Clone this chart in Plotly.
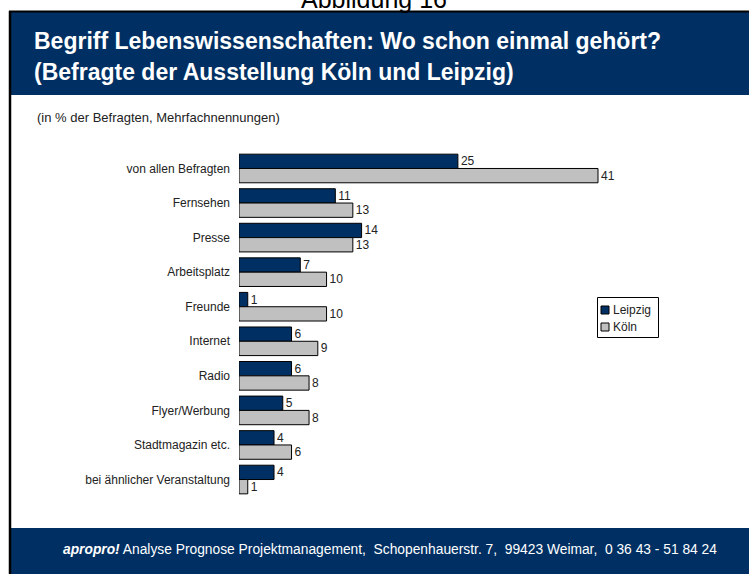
import plotly.graph_objects as go

W, H = 749, 574

categories = ["von allen Befragten", "Fernsehen", "Presse", "Arbeitsplatz", "Freunde",
              "Internet", "Radio", "Flyer/Werbung", "Stadtmagazin etc.",
              "bei ähnlicher Veranstaltung"]
leipzig = [25, 11, 14, 7, 1, 6, 6, 5, 4, 4]
koeln = [41, 13, 13, 10, 10, 9, 8, 8, 6, 1]
series_names = ["Leipzig", "Köln"]

NAVY = "#003063"
GREY = "#c0c0c0"
FONT = "Liberation Sans, Arial, sans-serif"


def px(x):
    return x / W


def py(y):
    return 1 - y / H


fig = go.Figure()
for name, vals, col in [(series_names[0], leipzig, NAVY), (series_names[1], koeln, GREY)]:
    fig.add_trace(go.Bar(
        y=categories, x=vals, name=name, orientation="h",
        marker=dict(color=col, line=dict(color="#000000", width=1)),
        text=vals, textposition="outside", constraintext="none", cliponaxis=False,
        textfont=dict(family=FONT, size=12, color="#222222"),
        showlegend=False,
    ))

shapes = [
    dict(type="rect", xref="paper", yref="paper", x0=px(10), x1=px(760), y0=py(95), y1=py(12),
         fillcolor=NAVY, line=dict(width=0), layer="below"),
    dict(type="rect", xref="paper", yref="paper", x0=px(10), x1=px(760), y0=py(590), y1=py(528),
         fillcolor=NAVY, line=dict(width=0), layer="below"),
    dict(type="line", xref="paper", yref="paper", x0=px(9), x1=px(760), y0=py(11.5), y1=py(11.5),
         line=dict(color="#000000", width=2)),
    dict(type="line", xref="paper", yref="paper", x0=px(10), x1=px(10), y0=py(11), y1=py(590),
         line=dict(color="#000000", width=2.5)),
    dict(type="rect", xref="paper", yref="paper", x0=px(597.5), x1=px(658.5), y0=py(337.5), y1=py(297.5),
         fillcolor="#ffffff", line=dict(color="#000000", width=1)),
    dict(type="rect", xref="paper", yref="paper", x0=px(601), x1=px(609), y0=py(314), y1=py(306),
         fillcolor=NAVY, line=dict(color="#000000", width=1)),
    dict(type="rect", xref="paper", yref="paper", x0=px(601), x1=px(609), y0=py(331), y1=py(323),
         fillcolor=GREY, line=dict(color="#000000", width=1)),
]

annotations = [
    dict(text="Abbildung 16", x=px(374), y=py(15), xref="paper", yref="paper",
         xanchor="center", yanchor="bottom", showarrow=False,
         font=dict(family=FONT, size=25, color="#000000")),
    dict(text="<b>Begriff Lebenswissenschaften: Wo schon einmal gehört?</b>", x=px(32), y=py(41),
         xref="paper", yref="paper", xanchor="left", yanchor="middle", showarrow=False,
         font=dict(family=FONT, size=23, color="#ffffff")),
    dict(text="<b>(Befragte der Ausstellung Köln und Leipzig)</b>", x=px(32), y=py(72),
         xref="paper", yref="paper", xanchor="left", yanchor="middle", showarrow=False,
         font=dict(family=FONT, size=23, color="#ffffff")),
    dict(text="(in % der Befragten, Mehrfachnennungen)", x=px(35), y=py(117),
         xref="paper", yref="paper", xanchor="left", yanchor="middle", showarrow=False,
         font=dict(family=FONT, size=13, color="#222222")),
    dict(text="<b><i>apropro!</i></b> Analyse Prognose Projektmanagement,  Schopenhauerstr. 7,  99423 Weimar,  0 36 43 - 51 84 24",
         x=px(389.5), y=py(549), xref="paper", yref="paper", xanchor="center", yanchor="middle",
         showarrow=False, font=dict(family=FONT, size=13.8, color="#ffffff")),
    dict(text=series_names[0], x=px(611), y=py(310), xref="paper", yref="paper",
         xanchor="left", yanchor="middle", showarrow=False,
         font=dict(family=FONT, size=12, color="#222222")),
    dict(text=series_names[1], x=px(611), y=py(327), xref="paper", yref="paper",
         xanchor="left", yanchor="middle", showarrow=False,
         font=dict(family=FONT, size=12, color="#222222")),
]

units_px = (598 - 239) / 41.0
right_px = 700
fig.update_layout(
    width=W, height=H,
    margin=dict(l=0, r=0, t=0, b=0),
    paper_bgcolor="#ffffff", plot_bgcolor="rgba(0,0,0,0)",
    barmode="group", bargap=0.172, bargroupgap=0,
    shapes=shapes, annotations=annotations,
    showlegend=False,
    xaxis=dict(domain=[px(239), px(right_px)], range=[0, (right_px - 239) / units_px],
               visible=False, showgrid=False, zeroline=False, fixedrange=True),
    yaxis=dict(domain=[py(496.8), py(151.2)], autorange="reversed", showgrid=False,
               zeroline=False, showline=False, ticks="", ticklabelstandoff=8,
               tickfont=dict(family=FONT, size=12, color="#222222"), automargin=False,
               fixedrange=True),
    font=dict(family=FONT),
)

fig.write_html("out.html", post_script="document.body.style.margin='0';",
               config={"displayModeBar": False})
